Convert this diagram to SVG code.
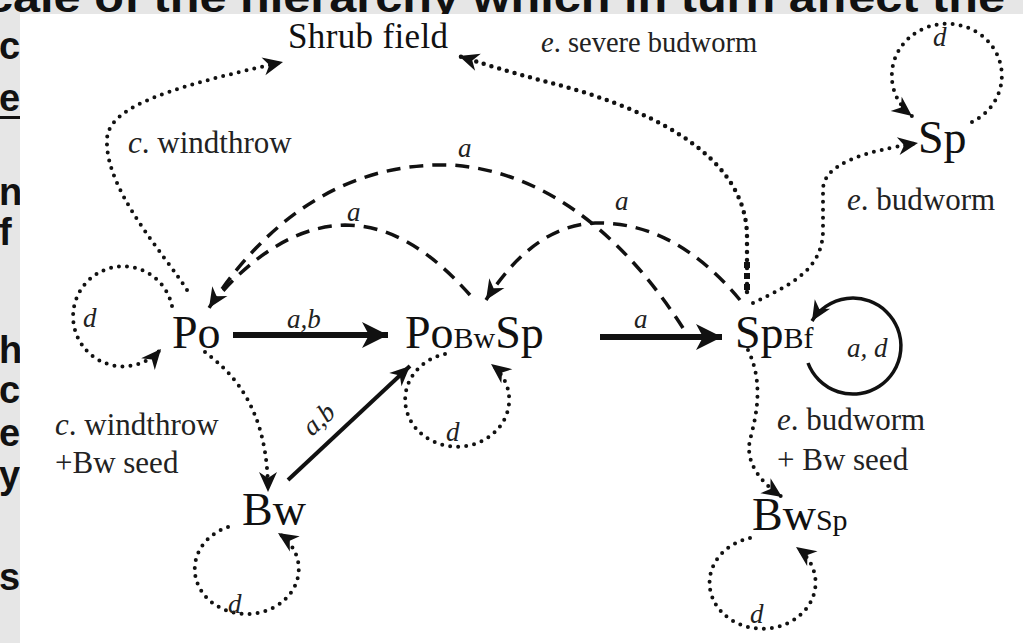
<svg xmlns="http://www.w3.org/2000/svg" width="1023" height="643" viewBox="0 0 1023 643">
<style>
.bg{fill:#e6e6e6}
.side{font-family:"Liberation Sans",Arial,sans-serif;font-weight:bold;font-size:38px;fill:#111}
.top{font-family:"Liberation Sans",Arial,sans-serif;font-weight:bold;font-size:42px;fill:#111}
.node{font-family:"Liberation Serif","Times New Roman",serif;font-size:46px;fill:#111}
.shrub{font-family:"Liberation Serif","Times New Roman",serif;font-size:35px;fill:#111}
.sub{font-size:30px}
.lbl{font-family:"Liberation Serif","Times New Roman",serif;font-size:31px;fill:#222}
.small{font-family:"Liberation Serif","Times New Roman",serif;font-size:27px;font-style:italic;fill:#222}
.it{font-style:italic}
.dot{fill:none;stroke:#111;stroke-width:4;stroke-linecap:round;stroke-dasharray:0 8}
.dash{fill:none;stroke:#111;stroke-width:3.5;stroke-dasharray:14 9}
.solid{fill:none;stroke:#111;stroke-width:3.5}
.thick{fill:none;stroke:#111;stroke-width:6}
</style>
<defs>
<marker id="ah" viewBox="-22 -11 24 22" refX="0" refY="0" markerWidth="24" markerHeight="22" markerUnits="userSpaceOnUse" orient="auto">
<path d="M0,0 L-20,-9 L-14,0 L-20,9 z" fill="#111"/>
</marker>
<marker id="ahb" viewBox="-28 -15 30 30" refX="0" refY="0" markerWidth="30" markerHeight="30" markerUnits="userSpaceOnUse" orient="auto">
<path d="M0,0 L-26,-13 L-19,0 L-26,13 z" fill="#111"/>
</marker>
<clipPath id="topclip"><rect x="0" y="0" width="1023" height="14"/></clipPath>
</defs>
<rect class="bg" x="0" y="0" width="1023" height="643"/>
<g clip-path="url(#topclip)">
<text class="top" x="-14" y="12" textLength="1019" lengthAdjust="spacingAndGlyphs">cale of the hierarchy which in turn affect the</text>
</g>
<g class="side">
<text x="-1" y="59">c</text>
<text x="-1" y="111">e</text>
<rect x="0" y="116" width="20" height="3" fill="#111"/>
<text x="-1" y="205">n</text>
<text x="-1" y="245">f</text>
<text x="-1" y="363">h</text>
<text x="-1" y="403">c</text>
<text x="-1" y="446">e</text>
<text x="-1" y="488">y</text>
<text x="-1" y="590">s</text>
</g>
<rect x="20" y="14" width="1003" height="629" fill="#fff"/>

<g id="connectors">
<line class="thick" x1="233" y1="335" x2="388" y2="335" marker-end="url(#ahb)"/>
<line class="thick" x1="600" y1="337" x2="722" y2="337" marker-end="url(#ahb)"/>
<line class="solid" x1="288" y1="480" x2="410" y2="366" style="stroke-width:4" marker-end="url(#ah)"/>
<path class="dash" d="M683,328 C620,230 540,170 450,165 C335,162 258,232 209,308" marker-end="url(#ah)"/>
<path class="dash" d="M470,295 C430,250 390,225 345,225 C300,226 258,252 222,292"/>
<path class="dash" d="M740,300 C690,240 640,222 595,223 C550,225 515,255 486,300" marker-end="url(#ah)"/>
<path class="dot" d="M747,292 L747,235 C745,150 640,105 540,80 C510,72 480,63 459,56" style="stroke-width:4.5" marker-end="url(#ah)"/>
<path d="M747,262 L747,292" fill="none" stroke="#111" stroke-width="6" stroke-dasharray="6 5"/>
<path class="dot" d="M753,303 C790,285 823,270 823,230 L823,190 C823,165 860,152 918,143" marker-end="url(#ah)"/>
<path class="dot" d="M972,122 A55 52 0 1 0 912,116" marker-end="url(#ah)"/>
<path class="dot" d="M172,306 A50 50 0 1 0 161,349" marker-end="url(#ah)"/>
<path class="dot" d="M228,527 A52 45 0 1 0 278,533" marker-end="url(#ah)"/>
<path class="dot" d="M445,354 A52 47 0 1 0 491,364" marker-end="url(#ah)"/>
<path class="dot" d="M750,538 A53 46 0 1 0 796,547" marker-end="url(#ah)"/>
<path class="solid" d="M808,363 A48 48 0 1 0 812,321" marker-end="url(#ah)"/>
<path class="dot" d="M205,352 C235,375 268,410 268,492" marker-end="url(#ah)"/>
<path class="dot" d="M748,350 C765,385 755,420 750,440 C745,462 760,482 782,497" marker-end="url(#ah)"/>
<path class="dot" d="M187,290 C165,255 105,190 107,140 C107,105 180,85 283,62" marker-end="url(#ah)"/>
<g class="small">
<text x="287" y="328">a,b</text>
<text x="634" y="328">a</text>
<text x="458" y="157">a</text>
<text x="347" y="221">a</text>
<text x="615" y="210">a</text>
<text x="0" y="0" transform="translate(312,437) rotate(-42)">a,b</text>
<text x="847" y="357">a, d</text>
<text x="933" y="46">d</text>
<text x="83" y="327">d</text>
<text x="228" y="613">d</text>
<text x="446" y="441">d</text>
<text x="750" y="623">d</text>
</g>
<text class="lbl" x="541" y="52" style="font-size:28.5px"><tspan class="it">e</tspan>. severe budworm</text>
<text class="lbl" x="128" y="153"><tspan class="it">c</tspan>. windthrow</text>
<text class="lbl" x="847" y="210"><tspan class="it">e</tspan>. budworm</text>
<text class="lbl" x="55" y="435"><tspan class="it">c</tspan>. windthrow</text>
<text class="lbl" x="55" y="473">+Bw seed</text>
<text class="lbl" x="777" y="430"><tspan class="it">e</tspan>. budworm</text>
<text class="lbl" x="777" y="470">+ Bw seed</text>
</g>

<g id="n-shrub"><text class="shrub" x="288" y="48" textLength="160">Shrub field</text></g>
<g id="n-po"><text class="node" x="172" y="348">Po</text></g>
<g id="n-pobwsp"><text class="node" x="405" y="348">Po<tspan class="sub">Bw</tspan>Sp</text></g>
<g id="n-spbf"><text class="node" x="735" y="348">Sp<tspan class="sub">Bf</tspan></text></g>
<g id="n-sp"><text class="node" x="918" y="153">Sp</text></g>
<g id="n-bw"><text class="node" x="242" y="525">Bw</text></g>
<g id="n-bwsp"><text class="node" x="752" y="530">Bw<tspan class="sub">Sp</tspan></text></g>
</svg>
